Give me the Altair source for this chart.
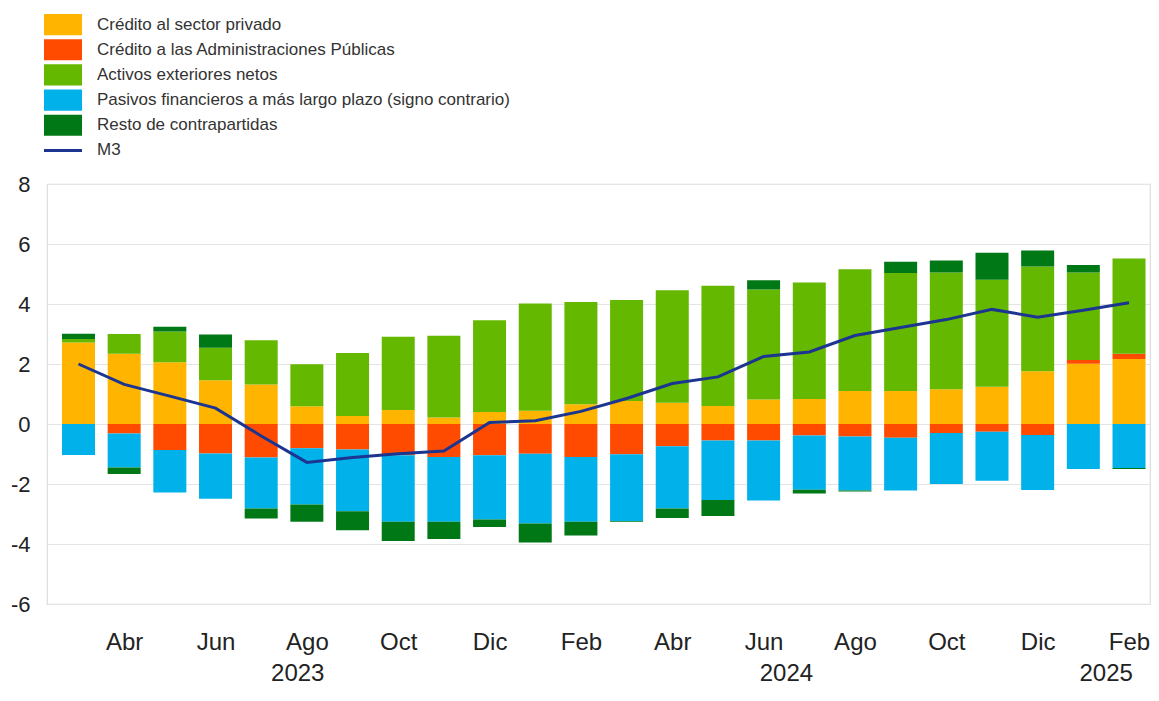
import altair as alt
import pandas as pd

# ---- data ----
indices = list(range(24))  # Mar 2023 .. Feb 2025
etiquetas_mes = ['', 'Abr', '', 'Jun', '', 'Ago', '', 'Oct', '', 'Dic', '', 'Feb',
                 '', 'Abr', '', 'Jun', '', 'Ago', '', 'Oct', '', 'Dic', '', 'Feb']

series = ['Crédito al sector privado',
          'Crédito a las Administraciones Públicas',
          'Activos exteriores netos',
          'Pasivos financieros a más largo plazo (signo contrario)',
          'Resto de contrapartidas']
colores = ['#FFB400', '#FF4B00', '#65B800', '#00B1EA', '#007816']
nombre_m3 = 'M3'
color_m3 = '#1B3591'

credito_privado = [2.72, 2.34, 2.06, 1.46, 1.32, 0.59, 0.27, 0.47, 0.22, 0.40, 0.44, 0.66,
                   0.77, 0.71, 0.60, 0.82, 0.83, 1.10, 1.10, 1.16, 1.24, 1.76, 2.01, 2.17]
credito_aapp = [0.00, -0.32, -0.87, -0.98, -1.12, -0.81, -0.85, -1.04, -1.10, -1.04, -0.99, -1.10,
                -1.01, -0.74, -0.55, -0.55, -0.38, -0.42, -0.46, -0.30, -0.26, -0.37, 0.12, 0.17]
activos_ext = [0.11, 0.66, 1.02, 1.08, 1.47, 1.40, 2.10, 2.44, 2.72, 3.06, 3.58, 3.41,
               3.36, 3.75, 4.01, 3.66, 3.89, 4.06, 3.93, 3.89, 3.57, 3.49, 2.92, 3.18]
pasivos = [-1.03, -1.13, -1.41, -1.51, -1.70, -1.87, -2.06, -2.22, -2.16, -2.14, -2.33, -2.16,
           -2.22, -2.08, -1.98, -2.00, -1.81, -1.80, -1.76, -1.70, -1.63, -1.83, -1.50, -1.47]
resto = [0.18, -0.22, 0.16, 0.44, -0.33, -0.58, -0.63, -0.64, -0.57, -0.25, -0.63, -0.46,
         -0.03, -0.31, -0.54, 0.31, -0.13, -0.03, 0.38, 0.40, 0.90, 0.53, 0.25, -0.03]
m3 = [2.00, 1.32, 0.93, 0.53, -0.40, -1.28, -1.12, -0.99, -0.90, 0.05, 0.11, 0.42,
      0.85, 1.35, 1.57, 2.25, 2.40, 2.95, 3.22, 3.48, 3.82, 3.56, 3.79, 4.04]

anos = ['2023', '2024', '2025']
pos_anos = [4.8, 15.5, 22.5]

# ---- tables ----
valores = [credito_privado, credito_aapp, activos_ext, pasivos, resto]
filas = []
for k, (nombre, vals) in enumerate(zip(series, valores)):
    for i, v in zip(indices, vals):
        filas.append({'idx': i, 'serie': nombre, 'valor': v, 'orden': k})
df_barras = pd.DataFrame(filas)
df_m3 = pd.DataFrame({'idx': indices, 'valor': m3})
df_anos = pd.DataFrame({'pos': pos_anos, 'ano': anos})
nombres_leyenda = series + [nombre_m3]
df_ley = pd.DataFrame({'serie': nombres_leyenda})

W, H = 1103, 420
FONT = 'Liberation Sans'

label_expr = '[' + ','.join("'%s'" % e for e in etiquetas_mes) + '][datum.value]'
x_enc = alt.X('idx:Q',
              scale=alt.Scale(domain=[-0.58, 23.35], nice=False, zero=False),
              axis=alt.Axis(values=[i for i in indices if i % 2 == 1], labelExpr=label_expr,
                            title=None, grid=False, ticks=False, domain=False,
                            labelFontSize=24, labelColor='#222222', labelFont=FONT,
                            labelPadding=26, labelFlush=False))
y_scale = alt.Scale(domain=[-6, 8], nice=False)
color_scale = alt.Scale(domain=series, range=colores)

barras = alt.Chart(df_barras).mark_bar(size=33).encode(
    x=x_enc,
    y=alt.Y('valor:Q', stack='zero', scale=y_scale,
            axis=alt.Axis(values=list(range(-6, 9, 2)), title=None, ticks=False, domain=False,
                          grid=True, gridColor='#e4e4e4', gridWidth=1.2,
                          labelFontSize=22, labelColor='#222222', labelFont=FONT,
                          labelPadding=17, labelExpr='toString(datum.value)')),
    color=alt.Color('serie:N', scale=color_scale, legend=None),
    order=alt.Order('orden:Q'),
)

linea = alt.Chart(df_m3).mark_line(color=color_m3, strokeWidth=3).encode(
    x='idx:Q',
    y=alt.Y('valor:Q', scale=y_scale),
)

textos_anos = alt.Chart(df_anos).mark_text(fontSize=24, font=FONT, color='#222222',
                                           baseline='middle', align='center').encode(
    x='pos:Q',
    y=alt.value(H + 70),
    text='ano:N',
)

principal = alt.layer(barras, linea, textos_anos)

ley_scale = alt.Scale(domain=nombres_leyenda, range=[-170, -23], paddingInner=0.16, paddingOuter=0)

ley_rect = alt.Chart(df_ley).transform_filter(
    alt.datum.serie != nombre_m3
).mark_rect().encode(
    x=alt.value(-3), x2=alt.value(35),
    y=alt.Y('serie:N', scale=ley_scale, axis=None),
    color=alt.Color('serie:N', scale=color_scale, legend=None),
)
ley_linea = alt.Chart(df_ley).transform_filter(
    alt.datum.serie == nombre_m3
).mark_rule(color=color_m3, strokeWidth=3).encode(
    x=alt.value(-3), x2=alt.value(35),
    y=alt.Y('serie:N', scale=ley_scale, axis=None, bandPosition=0.5),
)
ley_texto = alt.Chart(df_ley).mark_text(align='left', baseline='middle', fontSize=17,
                                        font=FONT, color='#333333').encode(
    x=alt.value(50),
    y=alt.Y('serie:N', scale=ley_scale, axis=None, bandPosition=0.5),
    text='serie:N',
)
leyenda = alt.layer(ley_rect, ley_linea, ley_texto)

chart = alt.layer(principal, leyenda).resolve_scale(y='independent').properties(
    width=W, height=H,
    autosize=alt.AutoSizeParams(type='none'),
    padding={'left': 39, 'top': 176, 'right': 1, 'bottom': 84},
).configure_view(stroke='#dddddd', strokeWidth=1.2)

chart.save('out.html', embed_options={'renderer': 'svg', 'actions': False})
